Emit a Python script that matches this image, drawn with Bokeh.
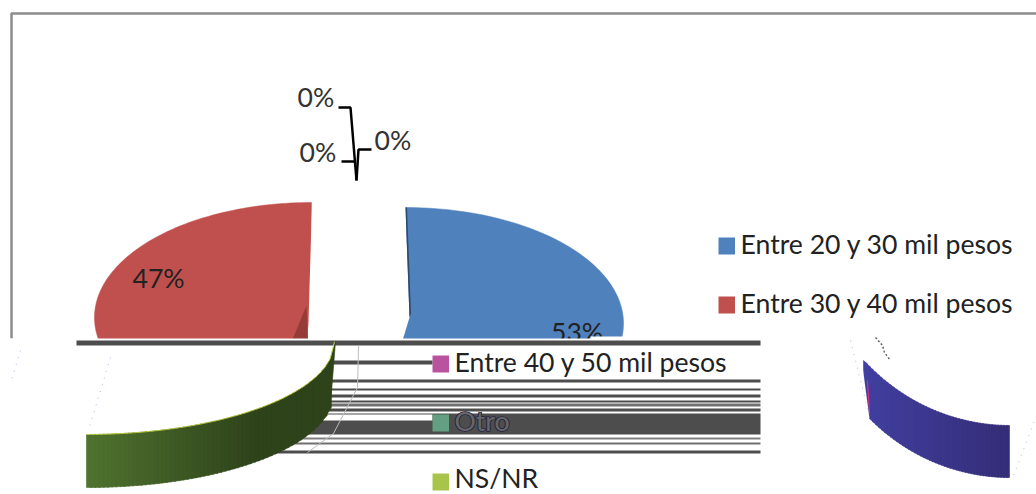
import numpy as np
from bokeh.plotting import figure
from bokeh.models import Range1d
from bokeh.core.properties import value
from bokeh.embed import file_html
from bokeh.resources import INLINE

categories = ["Entre 20 y 30 mil pesos", "Entre 30 y 40 mil pesos", "Entre 40 y 50 mil pesos", "Otro", "NS/NR"]
shares = [53, 47, 0, 0, 0]
labels = ["53%", "47%", "0%", "0%", "0%"]
colors = ["#4f81bd", "#c0504d", "#b9529f", "#62a081", "#a9c44a"]

FONT = value("Lato")
TXT = "#222222"
DARK = "#4d4d4d"
FS = "26.6px"

p = figure(width=1036, height=494, x_range=Range1d(0, 1036), y_range=Range1d(494, 0),
           output_backend="svg", toolbar_location=None, min_border=0,
           outline_line_color=None, background_fill_color="white", border_fill_color="white")
p.axis.visible = False
p.grid.visible = False


def slice_pts(cx, cy, rx, ry, start_deg, sweep_deg):
    t = np.radians(np.linspace(start_deg, start_deg + sweep_deg, 120))
    return [cx] + list(cx + rx * np.cos(t)), [cy] + list(cy - ry * np.sin(t))


# pie slices from the shares
total = sum(shares)
sweep_blue = 360 * shares[0] / total
sweep_red = 360 * shares[1] / total
xs, ys = slice_pts(405, 323, 218, 116, 90, -sweep_blue)
p.patch(xs, ys, color=colors[0], line_width=0.5)
p.patch([404, 405, 409, 402, 390], [207, 207, 317, 340, 340], color="white", line_width=0)
p.patch([405, 406.5, 410.5, 409], [207, 207, 313, 317], color="#2c4a6e", line_width=0)
xs, ys = slice_pts(311, 317, 217, 115, 90, sweep_red)
p.patch(xs, ys, color=colors[1], line_width=0.5)
p.patch([311, 307, 290, 306], [202, 339, 339, 305], color=colors[1], line_width=0)
p.patch([311.5, 307.5, 314], [202, 339, 339], color="white", line_width=0)
p.patch([306, 307.5, 292], [305, 339, 339], color="#953b38", line_width=0)

# percentage labels
p.text([132], [277], text=[labels[1]], text_font=FONT, text_font_size=FS, text_color=TXT,
       text_align="left", text_baseline="middle")
p.text([550.5], [331], text=[labels[0]], text_font=FONT, text_font_size=FS, text_color=TXT,
       text_align="left", text_baseline="middle")
p.text([297, 299, 374], [96, 151, 139], text=labels[2:], text_font=FONT, text_font_size=FS,
       text_color="#333333", text_align="left", text_baseline="middle")

# leader lines of the zero slices
p.line([338, 350, 356], [107, 107, 180], color="black", line_width=2.5)
p.line([371, 358, 356], [149, 149, 180], color="black", line_width=2.5)
p.line([341, 354], [161, 161], color="black", line_width=2.5)

# border of the chart area
p.line([11, 11, 1036], [338, 13, 13], color="#8c8c8c", line_width=2.5)

# damaged lower part of the image: white block and stripes
p.quad(left=[0], right=[770], top=[338], bottom=[470], color="white", line_width=0)
p.quad(left=[590], right=[770], top=[336], bottom=[340], color="white", line_width=0)
p.quad(left=[76], right=[760], top=[340], bottom=[345], color=DARK, line_width=0)
stripe_top = [379, 388, 394, 400, 403, 408, 413, 437, 442, 450]
stripe_bottom = [382, 390, 397, 402, 406, 411, 434, 439, 444, 453]
stripe_color = [DARK, DARK, DARK, DARK, "#707070", DARK, DARK, "#808080", "#707070", DARK]
p.quad(left=[200] * 10, right=[760] * 10, top=stripe_top, bottom=stripe_bottom, color=stripe_color, line_width=0)
p.quad(left=[200], right=[432], top=[360], bottom=[364], color=DARK, line_width=0)
p.quad(left=[200], right=[432], top=[414], bottom=[420], color="white", line_width=0)
p.line([358, 357, 333, 307], [345, 387, 433, 452], color="#bdbdbd", line_width=1)

# white top surface and green rim, bottom left
cx, cy, rx, ry = 86, 341, 248, 93
xe = np.linspace(86, 334, 60)
ye = cy + ry * np.sqrt(np.clip(1 - ((xe - cx) / rx) ** 2, 0, 1))
p.patch([70, 70] + list(xe) + [334], [346, 440] + list(ye) + [346], color="white", line_width=0)
ybot = 392 + 95 * np.sqrt(np.clip(1 - ((xe - 86) / 247) ** 2, 0, 1))
ybot = np.where(xe > 332, ye, ybot)
c0, c1 = np.array([0x50, 0x73, 0x30]), np.array([0x2f, 0x43, 0x1b])
for i in range(len(xe) - 1):
    f = min(i / 40, 1)
    c = "#%02x%02x%02x" % tuple((c0 + (c1 - c0) * f).astype(int))
    p.patch([xe[i], xe[i + 1] + 1, xe[i + 1] + 1, xe[i]], [ye[i], ye[i + 1], ybot[i + 1], ybot[i]],
            color=c, line_color=c, line_width=0.6)
p.line(list(xe), list(ye), color="#c8d838", line_width=0.8)

# purple rim, bottom right
xp = np.linspace(863, 1009, 50)
yt = 220 + 205 * np.sqrt(1 - ((xp - 1009) / 200) ** 2)
yb = yt + 52
c0, c1 = np.array([0x42, 0x40, 0xa0]), np.array([0x35, 0x2e, 0x78])
for i in range(len(xp) - 1):
    c = "#%02x%02x%02x" % tuple((c0 + (c1 - c0) * i / (len(xp) - 2)).astype(int))
    x1 = min(xp[i + 1] + 1, 1009)
    p.patch([xp[i], x1, x1, xp[i]], [yt[i], yt[i + 1], yb[i + 1], yb[i]], color=c, line_color=c, line_width=0.6)
p.patch([861, 861, 869], [358, 418, 418], color="white", line_width=0)
p.line([867, 869], [380, 413], color="#e0308a", line_width=1)
p.line([875, 882, 884, 890], [337, 345, 352, 360], color="#666666", line_width=1.5, line_dash="2 2")

# faint dotted remains of the pie outline
for fx, fy in [([20, 10], [350, 383]), ([110, 88], [357, 430]), ([850, 868], [340, 412]), ([1036, 1012], [415, 478])]:
    p.line(fx, fy, color="#b4b4ec", line_width=1, line_dash="1 6")

# legend
leg_x = [718, 718, 432, 432, 432]
leg_y = [245.5, 304.5, 363.5, 422.5, 481.5]
text_y = [243.5, 302.5, 361.5, 420.5, 477.5]
p.quad(left=leg_x, right=[v + 16.5 for v in leg_x], top=[v - 8.5 for v in leg_y], bottom=[v + 8.5 for v in leg_y],
       color=colors, line_width=0)
for i, name in enumerate(categories):
    tx, ty = leg_x[i] + 22, text_y[i]
    if name == "Otro":
        for off in (-0.6, 0.6):
            p.text([tx + off], [ty], text=[name], text_font=FONT, text_font_size=FS,
                   text_color=DARK, text_outline_color="#222244", text_align="left", text_baseline="middle")
        p.text([tx], [ty], text=[name], text_font=FONT, text_font_size=FS,
               text_color="#666666", text_align="left", text_baseline="middle")
    else:
        p.text([tx], [ty], text=[name], text_font=FONT, text_font_size=FS,
               text_color=TXT, text_align="left", text_baseline="middle")

open("out.html", "w").write(file_html(p, INLINE))
